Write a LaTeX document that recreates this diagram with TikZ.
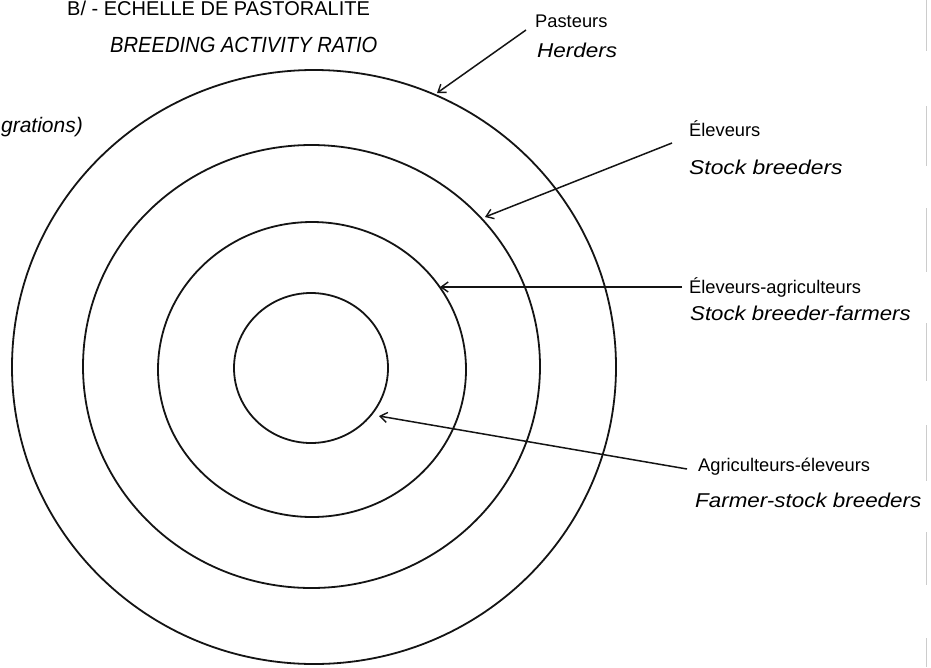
\documentclass[tikz,border=0pt]{standalone}
\usepackage{fontspec}
\setmainfont{Liberation Sans}
\usepackage{graphicx}
\usetikzlibrary{arrows.meta}
\begin{document}
\begin{tikzpicture}[x=1pt,y=-1pt,
  ring/.style={line width=1.8pt, black!92},
  pointer/.style={line width=1.5pt, black!92, -{Straight Barb[length=7pt,width=10pt,line width=1.4pt]}},
  frlabel/.style={anchor=base west, inner sep=0pt, font=\fontsize{18.3}{20}\selectfont},
  enlabel/.style={anchor=base west, inner sep=0pt, font=\fontsize{20}{22}\selectfont\itshape},
  titlelabel/.style={anchor=base west, inner sep=0pt, font=\fontsize{20}{22}\selectfont},
  subtitlelabel/.style={anchor=base west, inner sep=0pt, font=\fontsize{21.9}{24}\selectfont\itshape},
  scanmark/.style={line width=0.6pt, gray!40}]
\useasboundingbox (0,0) rectangle (931,667);
\fill[white] (0,0) rectangle (931,667);

% rings
\draw[ring] (314,367) ellipse [x radius=302pt, y radius=297pt];
\draw[ring] (311.5,366.5) ellipse [x radius=228.5pt, y radius=221.5pt];
\draw[ring] (312,369.5) ellipse [x radius=154pt, y radius=147.5pt];
\draw[ring] (311,368) ellipse [x radius=77pt, y radius=75pt];

% titles
\node[titlelabel] (title) at (67,15) {B/ - ECHELLE DE PASTORALITE};
\node[subtitlelabel] (subtitle) at (110,52) {\scalebox{0.92}[1]{BREEDING ACTIVITY RATIO}};
\node[subtitlelabel, anchor=base east, font=\fontsize{21}{23}\selectfont\itshape] (migr) at (83,132) {grations)};

% labels
\node[frlabel] (pasteurs) at (535,27) {Pasteurs};
\node[enlabel] (herders) at (537,57) {\scalebox{1.125}[1]{Herders}};
\node[frlabel] (eleveurs) at (689,136) {Éleveurs};
\node[enlabel] (stockb) at (689,174) {\scalebox{1.14}[1]{Stock breeders}};
\node[frlabel] (elagri) at (689,293) {Éleveurs-agriculteurs};
\node[enlabel] (stockbf) at (690,320) {\scalebox{1.11}[1]{Stock breeder-farmers}};
\node[frlabel] (agriel) at (698,471) {Agriculteurs-éleveurs};
\node[enlabel] (farmsb) at (695,507) {\scalebox{1.12}[1]{Farmer-stock breeders}};

% arrow ends
\coordinate (a1s) at (526,30);  \coordinate (a1e) at (437,93);
\coordinate (a2s) at (672,143); \coordinate (a2e) at (485,217);
\coordinate (a3s) at (682,287); \coordinate (a3e) at (440,287);
\coordinate (a4s) at (687,469); \coordinate (a4e) at (379,416);

\draw[pointer] (a1s) -- (a1e);
\draw[pointer] (a2s) -- (a2e);
\draw[pointer] (a3s) -- (a3e);
\draw[pointer] (a4s) -- (a4e);

% faint scan marks at the right edge
\foreach \ya/\yb in {0/51,106/166,208/272,323/381,425/481,532/585,638/667}
  \draw[scanmark] (926,\ya) -- (926,\yb);
\end{tikzpicture}
\end{document}
